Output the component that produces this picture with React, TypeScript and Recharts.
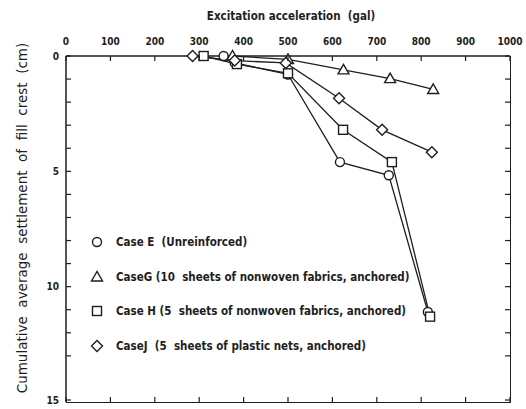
import React from 'react';
import { LineChart, Line, XAxis, YAxis } from 'recharts';

// excitation acceleration (gal) and settlement (cm) per case
const caseEAccel = [355, 380, 500, 617, 727, 815];
const caseESettle = [0, 0.3, 0.8, 4.6, 5.17, 11.1];
const caseGAccel = [375, 500, 625, 730, 827];
const caseGSettle = [0, 0.15, 0.6, 0.98, 1.45];
const caseHAccel = [310, 385, 500, 624, 734, 820];
const caseHSettle = [0, 0.35, 0.75, 3.2, 4.6, 11.3];
const caseJAccel = [285, 380, 495, 615, 712, 824];
const caseJSettle = [0, 0.2, 0.3, 1.83, 3.2, 4.17];

const xTicks = [0, 100, 200, 300, 400, 500, 600, 700, 800, 900, 1000];
const yTicks = [0, 1, 2, 3, 4, 5, 6, 7, 8, 9, 10, 11, 12, 13, 14, 15];

const legendItems = [
  { shape: 'circle', label: 'Case E  (Unreinforced)' },
  { shape: 'triangle', label: 'CaseG (10  sheets of nonwoven fabrics, anchored)' },
  { shape: 'square', label: 'Case H (5  sheets of nonwoven fabrics, anchored)' },
  { shape: 'diamond', label: 'CaseJ  (5  sheets of plastic nets, anchored)' },
];

const toRows = (xs: number[], ys: number[]) => xs.map((x, i) => ({ x, y: ys[i] }));

const INK = '#1e1e1e';
const FONT = '"DejaVu Sans Condensed", "DejaVu Sans", sans-serif';
const TICK = 5;
// plot box (chart 526x409 minus margins and axis bands)
const PLOT_X = 66;
const PLOT_Y = 56;
const PLOT_W = 444;
const PLOT_H = 346;

const Marker = ({ cx, cy, shape }: { cx: number; cy: number; shape: string }) => {
  const s = { fill: '#fff', stroke: INK, strokeWidth: 1.4 };
  if (shape === 'circle') return <circle cx={cx} cy={cy} r={4.5} {...s} />;
  if (shape === 'square') return <rect x={cx - 4.5} y={cy - 4.5} width={9} height={9} {...s} />;
  if (shape === 'triangle')
    return <polygon points={`${cx},${cy - 5.5} ${cx - 5.5},${cy + 4} ${cx + 5.5},${cy + 4}`} {...s} />;
  return <polygon points={`${cx},${cy - 5.5} ${cx + 5.5},${cy} ${cx},${cy + 5.5} ${cx - 5.5},${cy}`} {...s} />;
};

const dotFor = (shape: string) => (p: any) =>
  <Marker key={`${shape}-${p.index}`} cx={p.cx} cy={p.cy} shape={shape} />;

const labelStyle = { fontFamily: FONT, fontWeight: 700, fontSize: 10, fill: INK };

// top ticks also draw the matching bottom-edge ticks
const TopTick = ({ x, y, payload }: any) => (
  <g>
    <line x1={x} y1={y} x2={x} y2={y + TICK} stroke={INK} strokeWidth={1.2} />
    <line x1={x} y1={y + PLOT_H} x2={x} y2={y + PLOT_H - TICK} stroke={INK} strokeWidth={1.2} />
    <text x={x} y={y - 11} textAnchor="middle" {...labelStyle}>{payload.value}</text>
  </g>
);
// left ticks also draw the right-edge ticks
const LeftTick = ({ x, y, payload }: any) => (
  <g>
    <line x1={x} y1={y} x2={x + TICK} y2={y} stroke={INK} strokeWidth={1.2} />
    <line x1={x + PLOT_W} y1={y} x2={x + PLOT_W - TICK} y2={y} stroke={INK} strokeWidth={1.2} />
    {payload.value % 5 === 0 && (
      <text x={x - 7} y={y} dy="0.35em" textAnchor="end" {...labelStyle}>{payload.value}</text>
    )}
  </g>
);

const LegendBox = () => (
  <div
    style={{
      position: 'absolute', left: 88, top: 225, width: 400,
      fontFamily: FONT, fontWeight: 700, fontSize: 11.5, color: INK,
    }}
  >
    {legendItems.map((it) => (
      <div key={it.label} style={{ display: 'flex', alignItems: 'center', height: 34.5 }}>
        <svg width={20} height={14} style={{ marginRight: 8 }}>
          <Marker cx={9} cy={7} shape={it.shape} />
        </svg>
        <span style={{ whiteSpace: 'pre' }}>{it.label}</span>
      </div>
    ))}
  </div>
);

export default function App() {
  const series = [
    { shape: 'circle', data: toRows(caseEAccel, caseESettle) },
    { shape: 'triangle', data: toRows(caseGAccel, caseGSettle) },
    { shape: 'square', data: toRows(caseHAccel, caseHSettle) },
    { shape: 'diamond', data: toRows(caseJAccel, caseJSettle) },
  ];
  const axisLine = { stroke: INK, strokeWidth: 1.5 };

  return (
    <div
      style={{
        position: 'absolute', left: 0, top: 0, width: 526, height: 409,
        overflow: 'hidden', background: '#fff',
      }}
    >
      <div
        style={{
          position: 'absolute', left: 291, top: 9, transform: 'translateX(-50%)', whiteSpace: 'pre',
          fontFamily: FONT, fontWeight: 700, fontSize: 11.5, color: INK,
        }}
      >
        Excitation acceleration  (gal)
      </div>
      <div
        style={{
          position: 'absolute', left: 22, top: 218, transform: 'translate(-50%, -50%) rotate(-90deg)',
          whiteSpace: 'pre', fontFamily: '"DejaVu Sans", sans-serif', fontSize: 13.5, color: INK,
        }}
      >
        Cumulative  average  settlement  of  fill  crest  (cm)
      </div>
      <LineChart width={526} height={409} margin={{ top: 30, right: 16, bottom: 7, left: 20 }}>
        <XAxis
          orientation="top" type="number" dataKey="x" domain={[0, 1000]} ticks={xTicks}
          height={26} tickSize={0} tickMargin={0} tick={<TopTick />} tickLine={false}
          allowDuplicatedCategory={false} axisLine={axisLine}
        />
        <YAxis
          type="number" domain={[0, 15]} ticks={yTicks} reversed width={46}
          tickSize={0} tickMargin={0} tick={<LeftTick />} tickLine={false} axisLine={axisLine}
        />
        {series.map((s) => (
          <Line
            key={s.shape} data={s.data} dataKey="y" type="linear"
            stroke={INK} strokeWidth={1.3} dot={dotFor(s.shape)} activeDot={false}
            isAnimationActive={false}
          />
        ))}
      </LineChart>
      {/* right and bottom sides of the frame */}
      <div
        style={{
          position: 'absolute', left: PLOT_X, top: PLOT_Y, width: PLOT_W + 1, height: PLOT_H + 1,
          boxSizing: 'border-box', borderRight: `1.5px solid ${INK}`, borderBottom: `1.5px solid ${INK}`,
          pointerEvents: 'none',
        }}
      />
      <LegendBox />
    </div>
  );
}
